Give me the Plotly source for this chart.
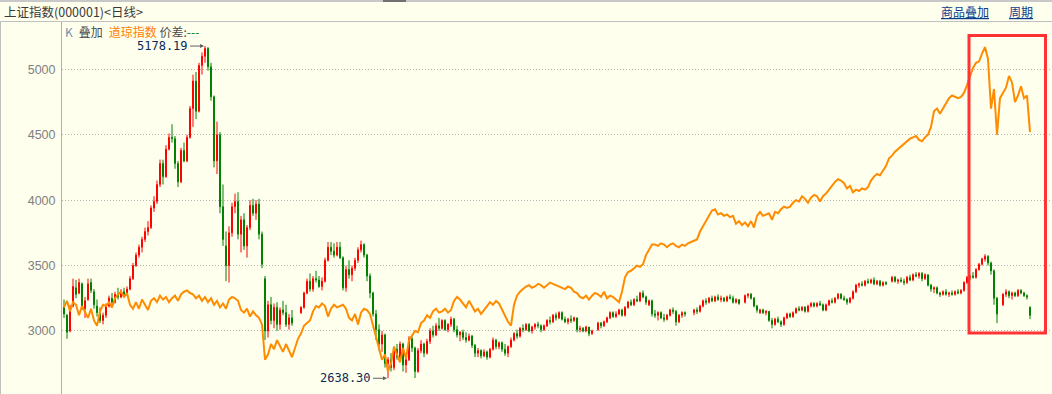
import plotly.graph_objects as go

# ---------------- data (Shanghai Composite daily K, Dow overlay on same scale) ----------------
opens = [
    3180,3120,3000,3190,3330,3290,3360,3170,3240,3370,
    3300,3190,3130,3080,3120,3190,3250,3220,3280,3260,
    3300,3280,3320,3400,3500,3580,3640,3700,3760,3790,
    3940,3990,4120,4280,4180,4390,4480,4470,4280,4140,
    4380,4300,4480,4700,4910,4680,5030,5100,5160,5020,
    4790,4300,4500,3950,3650,3500,3750,3950,3990,3740,
    3850,3650,3790,3960,3900,3970,3740,3400,3000,3200,
    3080,3180,3050,3160,3140,3050,3100,None,None,3140,
    3180,3290,3380,3320,3400,3390,3340,3380,3540,3640,
    3610,3580,3640,3560,3330,3470,3430,3480,3540,3620,
    3660,3580,3420,3290,3130,3010,2900,2970,2750,2780,
    2720,2860,2800,2900,2740,2780,2940,2870,2690,2850,
    2900,2830,2920,3000,2970,3040,3020,3080,3010,3050,
    3090,3010,2970,2990,2950,2930,2960,2890,2830,2850,
    2810,2840,2800,2860,2930,2880,2910,2860,2830,2880,
    2930,2980,2960,3020,3010,3050,3000,3030,3050,3040,
    3010,3040,3080,3070,3120,3100,3140,3090,3070,3090,
    3080,3100,3010,3020,3000,3030,2980,None,3010,3060,
    3040,3070,3100,3140,3110,3130,3160,3120,3180,3220,
    3200,3240,3230,3290,3260,3200,3230,3130,3120,3140,
    3100,3090,3120,3160,3150,3070,3120,3140,None,None,
    3140,3160,3150,3190,3230,3220,3250,3230,3260,3240,
    3250,3230,3260,3250,3220,3240,None,3220,3270,3280,
    3250,3190,3140,3160,3140,3150,3080,3050,3090,3070,
    3050,3100,3130,3110,3140,3170,3160,3180,3150,3190,
    3210,3190,3210,3200,3160,3200,3230,3220,3250,3280,
    3250,3240,3220,3250,3300,3350,3360,3350,3380,3370,
    3390,3360,3380,3350,3370,None,3380,3410,3380,3390,
    3380,3370,3410,3390,3430,3420,3440,3400,3430,3350,
    3320,3330,3290,3280,3300,3280,3290,3280,3300,3290,
    3310,3370,3410,3420,3410,3470,3510,3550,3570,3520,
    3460,3250,None,3200,3280,3300,3270,3290,3270,3310,
    3290,3270,3180,
]
highs = [
    3240,3130,3200,3400,3390,3400,3370,3260,3400,3400,
    3320,3240,3180,3140,3210,3270,3290,3300,3330,3320,
    3330,3340,3420,3520,3600,3660,3720,3790,3840,3960,
    4030,4150,4310,4310,4420,4510,4580,4490,4300,4400,
    4440,4500,4720,4960,4980,5050,5130,5178.19,5170,5050,
    4800,4600,4520,4120,3760,3800,3980,4050,4060,3880,
    3900,3810,4000,4010,4000,4010,3760,3420,3230,3260,
    3210,3220,3180,3230,3200,3130,3160,None,None,3190,
    3300,3400,3440,3420,3460,3420,3410,3560,3680,3680,
    3670,3680,3680,3570,3500,3540,3500,3560,3640,3690,
    3670,3590,3440,3300,3160,3050,3000,2980,2800,2830,
    2880,2900,2920,2910,2800,2960,2960,2880,2870,2930,
    2910,2940,3020,3040,3060,3100,3090,3090,3060,3110,
    3100,3040,3000,3010,2990,2980,2970,2900,2870,2860,
    2860,2850,2870,2950,2940,2920,2920,2900,2890,2950,
    2990,3010,3030,3050,3060,3060,3040,3060,3070,3050,
    3050,3090,3110,3130,3140,3150,3150,3110,3100,3120,
    3110,3100,3040,3030,3040,3030,3010,None,3070,3070,
    3080,3110,3150,3150,3150,3170,3170,3190,3230,3240,
    3250,3270,3300,3310,3270,3240,3240,3160,3150,3150,
    3130,3130,3170,3180,3160,3130,3150,3150,None,None,
    3170,3180,3200,3240,3250,3260,3270,3270,3280,3270,
    3260,3270,3280,3270,3250,3240,None,3280,3290,3290,
    3260,3200,3170,3170,3160,3150,3100,3100,3110,3080,
    3110,3140,3140,3150,3180,3190,3190,3190,3200,3220,
    3220,3220,3230,3210,3210,3240,3250,3260,3290,3290,
    3270,3250,3260,3310,3360,3370,3380,3390,3400,3400,
    3410,3390,3390,3380,3380,None,3420,3420,3400,3410,
    3400,3420,3430,3440,3450,3450,3450,3440,3430,3360,
    3340,3340,3300,3310,3320,3300,3310,3310,3320,3320,
    3380,3420,3430,3450,3480,3520,3560,3587,3580,3530,
    3470,3260,None,3290,3320,3310,3300,3300,3320,3320,
    3300,3280,3190,
]
lows = [
    3100,2940,2990,3180,3250,3280,3160,3100,3230,3290,
    3170,3110,3060,3050,3100,3180,3200,3210,3240,3250,
    3260,3270,3310,3390,3490,3560,3600,3680,3730,3780,
    3910,3970,4100,4120,4170,4380,4440,4240,4100,4130,
    4290,4290,4470,4560,4620,4670,4960,5050,4990,4760,
    4250,4200,3900,3650,3380,3370,3720,3900,3700,3600,
    3620,3560,3770,3880,3850,3700,3480,2930,2950,3050,
    3020,3000,3010,3120,3030,3010,3040,None,None,3130,
    3170,3280,3300,3300,3370,3330,3310,3370,3530,3580,
    3560,3570,3550,3310,3300,3400,3380,3460,3520,3600,
    3560,3380,3250,3110,2930,2850,2840,2720,2638.30,2690,
    2700,2780,2780,2690,2680,2770,2840,2640,2680,2830,
    2800,2820,2900,2950,2960,3000,3010,3000,2990,3030,
    2990,2950,2920,2930,2910,2920,2870,2800,2800,2790,
    2800,2780,2790,2850,2860,2860,2840,2810,2800,2870,
    2920,2940,2950,2990,3000,2990,2980,3010,3020,2990,
    3000,3030,3050,3060,3080,3090,3080,3060,3050,3060,
    3070,2990,2990,2990,2990,2960,2970,None,3000,3020,
    3030,3060,3090,3100,3100,3120,3110,3110,3170,3190,
    3190,3220,3220,3250,3200,3190,3110,3100,3080,3090,
    3070,3080,3110,3130,3040,3060,3100,3110,None,None,
    3120,3130,3140,3180,3200,3210,3220,3220,3230,3220,
    3220,3220,3240,3210,3210,3200,None,3210,3250,3240,
    3180,3140,3130,3130,3120,3070,3020,3040,3060,3030,
    3040,3090,3100,3100,3130,3150,3150,3140,3140,3180,
    3180,3180,3190,3150,3150,3190,3210,3210,3240,3240,
    3230,3200,3210,3240,3290,3330,3340,3340,3360,3360,
    3350,3350,3340,3340,3350,None,3370,3370,3360,3370,
    3350,3360,3380,3380,3410,3400,3380,3390,3340,3300,
    3290,3280,3260,3270,3270,3260,3270,3270,3280,3280,
    3300,3360,3390,3400,3400,3460,3500,3530,3500,3430,
    3200,3060,None,3190,3260,3250,3240,3260,3260,3280,
    3260,3240,3090,
]
closes = [
    3130,2990,3180,3340,3280,3370,3180,3230,3360,3310,
    3200,3140,3080,3120,3190,3250,3220,3280,3260,3300,
    3280,3320,3400,3500,3580,3640,3700,3760,3790,3940,
    3990,4120,4280,4180,4390,4480,4470,4280,4140,4380,
    4300,4480,4700,4910,4680,5030,5100,5160,5020,4790,
    4300,4500,3950,3700,3500,3750,3950,3990,3740,3850,
    3650,3790,3960,3900,3970,3740,3510,3000,3200,3080,
    3180,3050,3160,3140,3050,3100,3060,None,None,3180,
    3290,3380,3320,3400,3390,3340,3380,3540,3640,3610,
    3580,3640,3560,3330,3470,3430,3480,3540,3620,3660,
    3580,3420,3290,3130,3010,2900,2970,2750,2780,2720,
    2860,2800,2900,2740,2780,2940,2870,2690,2850,2900,
    2830,2920,3000,2970,3040,3020,3080,3010,3050,3090,
    3010,2970,2990,2950,2930,2960,2890,2830,2850,2810,
    2840,2800,2860,2930,2880,2910,2860,2830,2880,2930,
    2980,2960,3020,3010,3050,3000,3030,3050,3040,3010,
    3040,3080,3070,3120,3100,3140,3090,3070,3090,3080,
    3100,3010,3020,3000,3030,2980,3000,None,3060,3040,
    3070,3100,3140,3110,3130,3160,3120,3180,3220,3200,
    3240,3230,3290,3260,3220,3230,3130,3120,3140,3100,
    3090,3120,3160,3150,3070,3120,3140,3130,None,None,
    3160,3150,3190,3230,3220,3250,3230,3260,3240,3250,
    3230,3260,3250,3220,3240,3210,None,3270,3280,3250,
    3190,3160,3160,3140,3150,3080,3050,3090,3070,3050,
    3100,3130,3110,3140,3170,3160,3180,3150,3190,3210,
    3190,3210,3200,3160,3200,3230,3220,3250,3280,3250,
    3240,3220,3250,3300,3350,3360,3350,3380,3370,3390,
    3360,3380,3350,3370,3360,None,3410,3380,3390,3380,
    3370,3410,3390,3430,3420,3440,3400,3430,3350,3320,
    3330,3290,3280,3300,3280,3290,3280,3300,3290,3310,
    3370,3410,3420,3410,3470,3510,3550,3570,3520,3460,
    3250,3130,None,3280,3300,3270,3290,3270,3310,3290,
    3270,3260,3120,
]
dow_overlay = [
    3180,3230,3150,3220,3200,3120,3190,3140,3100,3170,
    3080,3040,3150,3200,3190,3220,3180,3250,3280,3300,
    3260,3290,3200,3170,3220,3170,3240,3200,3160,3230,
    3250,3220,3270,3240,3260,3220,3250,3270,3230,3280,
    3300,3310,3290,3280,3250,3270,3230,3260,3220,3250,
    3200,3230,3180,3210,3170,3240,3260,3250,3230,3160,
    3140,3170,3110,3150,3120,3100,3050,2780,2820,2900,
    2860,2930,2880,2840,2900,2850,2800,2870,2940,2980,
    3040,3060,3080,3150,3190,3180,3210,3190,3110,3170,
    3200,3180,3190,3200,3170,3100,3080,3130,3050,3140,
    3170,3160,3130,3040,2960,2880,2780,2820,2690,2750,
    2880,2820,2760,2870,2790,2930,2970,3000,2990,3060,
    3080,3120,3100,3150,3170,3140,3150,3170,3140,3160,
    3230,3260,3240,3210,3180,3230,3190,3150,3170,3130,
    3160,3190,3220,3200,3230,3210,3160,3120,3070,3040,
    3200,3270,3300,3320,3340,3350,3330,3340,3360,3350,
    3330,3350,3370,3360,3350,3340,3330,3320,3340,3330,
    3300,3290,3260,3250,3270,3240,3270,3290,3280,3260,
    3300,3250,3270,3260,3240,3220,3300,3410,3450,3460,
    3480,3500,3490,3510,3580,3620,3660,3660,3650,3670,
    3660,3640,3660,3670,3650,3640,3660,3650,3670,3680,
    3690,3700,3760,3800,3830,3880,3920,3930,3890,3900,
    3880,3890,3870,3880,3820,3840,3810,3830,3800,3840,
    3790,3880,3910,3880,3890,3900,3850,3910,3900,3930,
    3950,3940,3950,3980,4000,3990,4030,4010,3980,4020,
    4040,4030,3990,4030,4050,4080,4110,4140,4160,4150,
    4130,4090,4110,4060,4080,4070,4090,4080,4100,4150,
    4180,4200,4190,4230,4260,4320,4340,4370,4390,4410,
    4430,4450,4470,4480,4490,4460,4450,4480,4500,4560,
    4680,4700,4660,4700,4740,4780,4800,4790,4780,4790,
    4820,4880,4950,5010,5050,5060,5120,5170,5080,4700,
    4850,4500,4780,4820,4860,4950,4900,4750,4800,4870,
    4780,4800,4520,
]
y_ticks = [3000, 3500, 4000, 4500, 5000]
title_text = "上证指数(000001)&lt;日线&gt;"
high_label = "5178.19"
low_label = "2638.30"

# ---------------- geometry ----------------
W, H = 1052, 394
L, T = 62, 22
PW, PH = W - L, H - T
BG = "#FFFFEE"


def px(X):
    return (X - L) / PW


def py(Y):
    return (H - Y) / PH


idx = [i for i in range(len(closes)) if closes[i] is not None]
hi_i = max(idx, key=lambda i: highs[i])
lo_i = min(idx, key=lambda i: lows[i])

fig = go.Figure()
fig.add_trace(go.Candlestick(
    x=idx,
    open=[opens[i] for i in idx],
    high=[highs[i] for i in idx],
    low=[lows[i] for i in idx],
    close=[closes[i] for i in idx],
    increasing=dict(line=dict(color="#FF0000", width=1), fillcolor="#FF0000"),
    decreasing=dict(line=dict(color="#008000", width=1), fillcolor="#008000"),
    whiskerwidth=0,
    hoverinfo="skip",
))
fig.add_trace(go.Scatter(
    x=list(range(len(dow_overlay))), y=dow_overlay, mode="lines",
    line=dict(color="#FF8C00", width=2), hoverinfo="skip",
))

shapes = [
    # top strip
    dict(type="rect", xref="paper", yref="paper", x0=px(0), x1=px(W), y0=py(2), y1=py(0),
         fillcolor="#C8C8C8", line=dict(width=0), layer="above"),
    dict(type="rect", xref="paper", yref="paper", x0=px(383), x1=px(406), y0=py(2), y1=py(0),
         fillcolor="#707070", line=dict(width=0), layer="above"),
    # header separator
    dict(type="line", xref="paper", yref="paper", x0=px(0), x1=px(W), y0=py(21.5), y1=py(21.5),
         line=dict(color="#C0C0C0", width=1)),
    # left border
    dict(type="line", xref="paper", yref="paper", x0=px(0.5), x1=px(0.5), y0=py(22), y1=py(H),
         line=dict(color="#C0C0C0", width=1)),
    # red highlight box
    dict(type="rect", xref="paper", yref="paper", x0=px(969), x1=px(1045.5), y0=py(333), y1=py(35.5),
         line=dict(color="#FF3333", width=3), fillcolor="rgba(0,0,0,0)", layer="above"),
]

annotations = [
    dict(xref="paper", yref="paper", x=px(2), y=py(11.5), xanchor="left", yanchor="middle",
         text=title_text, showarrow=False,
         font=dict(family="Noto Sans CJK SC", size=12.5, color="#3A3A3A")),
    dict(xref="paper", yref="paper", x=px(939), y=py(11.5), xanchor="left", yanchor="middle",
         text="<u>商品叠加</u>", showarrow=False,
         font=dict(family="Noto Sans CJK SC", size=12, color="#0B3C8C")),
    dict(xref="paper", yref="paper", x=px(1007), y=py(11.5), xanchor="left", yanchor="middle",
         text="<u>周期</u>", showarrow=False,
         font=dict(family="Noto Sans CJK SC", size=12, color="#0B3C8C")),
    dict(xref="paper", yref="paper", x=px(63), y=py(32), xanchor="left", yanchor="middle",
         text=("<span style='color:#6F8FB0'>K</span>\u2002叠加\u2002"
               "<span style='color:#FF8000'>道琼指数</span> 价差:"
               "<span style='color:#008000'>---</span>"),
         showarrow=False, font=dict(family="Noto Sans CJK SC", size=12, color="#4A4A4A")),
    dict(x=hi_i, y=highs[hi_i], xref="x", yref="y", text=high_label, showarrow=True,
         ax=-15, ay=0, xanchor="right", yanchor="middle", arrowhead=2, arrowsize=0.8,
         arrowwidth=1, arrowcolor="#606060", standoff=1,
         font=dict(family="DejaVu Sans Mono", size=12, color="#0A2A5A")),
    dict(x=lo_i, y=lows[lo_i], xref="x", yref="y", text=low_label, showarrow=True,
         ax=-15, ay=0, xanchor="right", yanchor="middle", arrowhead=2, arrowsize=0.8,
         arrowwidth=1, arrowcolor="#606060", standoff=1,
         font=dict(family="DejaVu Sans Mono", size=12, color="#0A2A5A")),
]

fig.update_layout(
    width=W, height=H,
    margin=dict(l=L, r=0, t=T, b=0, pad=0),
    paper_bgcolor=BG, plot_bgcolor=BG,
    showlegend=False,
    boxgap=0.55,
    xaxis=dict(range=[-0.667, 329.333], showgrid=False, zeroline=False,
               showticklabels=False, showline=False, ticks="",
               rangeslider=dict(visible=False), fixedrange=True),
    yaxis=dict(range=[2518, 5362], tickvals=y_ticks, ticktext=[str(v) for v in y_ticks],
               showgrid=True, gridcolor="#B4B4B4", gridwidth=1, griddash="1px,2px",
               zeroline=False, showline=True, linecolor="#B0B0B0", linewidth=1,
               ticks="outside", ticklen=3, tickcolor=BG,
               tickfont=dict(family="Liberation Sans", size=12.5, color="#808080"),
               fixedrange=True),
    shapes=shapes,
    annotations=annotations,
)

fig.write_html("out.html")
